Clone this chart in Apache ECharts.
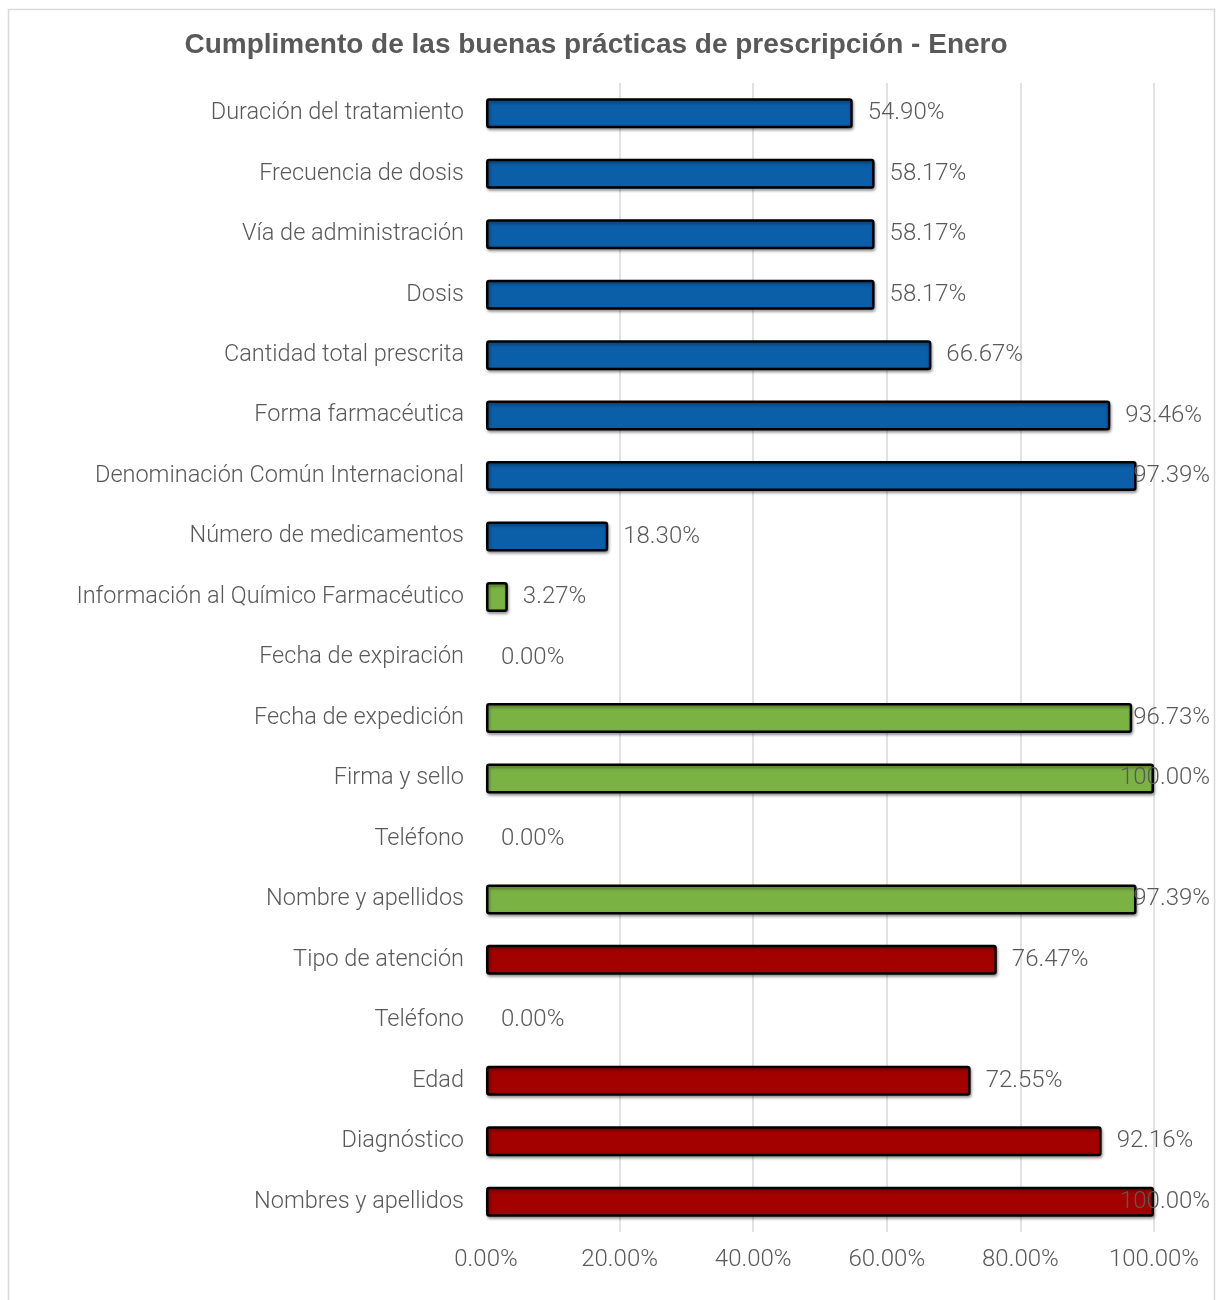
<!DOCTYPE html>
<html><head><meta charset="utf-8">
<script src="https://cdn.jsdelivr.net/npm/echarts@6/dist/echarts.min.js"></script>
<style>html,body{margin:0;padding:0;background:#fff}#c{width:1217px;height:1300px}</style>
</head><body><div id="c"></div>
<script>
const categories = [
  'Duración del tratamiento','Frecuencia de dosis','Vía de administración','Dosis',
  'Cantidad total prescrita','Forma farmacéutica','Denominación Común Internacional',
  'Número de medicamentos','Información al Químico Farmacéutico','Fecha de expiración',
  'Fecha de expedición','Firma y sello','Teléfono','Nombre y apellidos',
  'Tipo de atención','Teléfono ','Edad','Diagnóstico','Nombres y apellidos'
];
const values = [54.90,58.17,58.17,58.17,66.67,93.46,97.39,18.30,3.27,0.00,96.73,100.00,0.00,97.39,76.47,0.00,72.55,92.16,100.00];
const groups = ['medicamento','medicamento','medicamento','medicamento','medicamento','medicamento','medicamento','medicamento',
  'prescriptor','prescriptor','prescriptor','prescriptor','prescriptor','prescriptor',
  'paciente','paciente','paciente','paciente','paciente'];
const xTicks = [0,20,40,60,80,100];

const groupColor = {medicamento:'#0b5ea8', prescriptor:'#7ab343', paciente:'#a30000'};
const FONT = 'Roboto';
const chart = echarts.init(document.getElementById('c'), null, {renderer:'canvas'});
chart.setOption({
  backgroundColor:'#fff',
  animation:false,
  title:{text:'Cumplimento de las buenas prácticas de prescripción - Enero',left:591,top:26,textAlign:'center',
    textStyle:{fontFamily:'Liberation Sans Narrow, Arial Narrow, sans-serif',fontWeight:'bold',fontSize:28,color:'#595959'}},
  graphic:[{type:'rect',shape:{x:8.5,y:9.5,width:1206,height:1300},style:{fill:'none',stroke:'#d9d9d9',lineWidth:1.5},silent:true}],
  grid:{left:486,right:63,top:83,height:1149,containLabel:false},
  xAxis:{type:'value',min:0,max:100,interval:20,
    axisLine:{show:false},axisTick:{show:false},
    splitLine:{show:true,lineStyle:{color:['rgba(0,0,0,0)','#d9d9d9','#d9d9d9','#d9d9d9','#d9d9d9','#d9d9d9'],width:1.5}},
    axisLabel:{fontFamily:FONT,fontWeight:300,fontSize:24,color:'#595959',margin:16,formatter:v=>xTicks.includes(v)?v.toFixed(2)+'%':''}},
  yAxis:{type:'category',inverse:true,data:categories,
    axisLine:{show:false},axisTick:{show:false},
    axisLabel:{fontFamily:FONT,fontWeight:300,fontSize:23.5,color:'#595959',margin:22,formatter:v=>v.trim()}},
  series:[{type:'bar',barWidth:30,
    data:values.map((v,i)=>({value:v,itemStyle:v===0?{color:'rgba(0,0,0,0)',borderWidth:0,shadowBlur:0,shadowOffsetX:0,shadowOffsetY:0}:{color:groupColor[groups[i]]}})),
    itemStyle:{borderColor:'#000',borderWidth:2.5,borderRadius:2,shadowColor:'rgba(0,0,0,0.35)',shadowBlur:3,shadowOffsetX:1,shadowOffsetY:2},
    label:{show:true,position:'right',distance:15,fontFamily:FONT,fontWeight:300,fontSize:24,color:'#595959',formatter:p=>p.value.toFixed(2)+'%'},
    labelLayout:function(p){
      return {x:Math.min(p.labelRect.x,1210-p.labelRect.width), y:p.rect.y+p.rect.height/2, align:'left', verticalAlign:'middle'};
    }
  }]
});
</script></body></html>
